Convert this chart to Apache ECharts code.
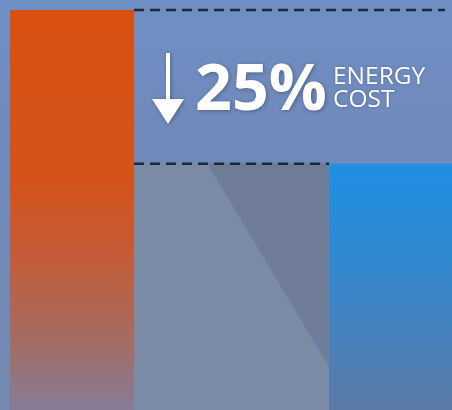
<!DOCTYPE html>
<html>
<head>
<meta charset="utf-8">
<script src="https://cdn.jsdelivr.net/npm/echarts@6/dist/echarts.min.js"></script>
<style>html,body{margin:0;padding:0;}#c{width:452px;height:410px;}</style>
</head>
<body>
<div id="c"></div>
<script>
// ---- data ----
const categories = ['Before', 'After'];
const costValues = [100, 75];
const reductionText = '25%';
const captionLines = ['ENERGY', 'COST'];

// ---- styles ----
const BAR_W = 124;
const orangeGrad = {type:'linear',x:0,y:0,x2:0,y2:1,colorStops:[
  {offset:0,color:'#d9500f'},{offset:0.42,color:'#d5531b'},{offset:0.6,color:'#c65b36'},
  {offset:0.8,color:'#a86a5c'},{offset:1,color:'#877c97'}]};
const blueGrad = {type:'linear',x:0,y:0,x2:0,y2:1,colorStops:[
  {offset:0,color:'#1f90e2'},{offset:0.4,color:'#3188cf'},{offset:0.75,color:'#4a80b8'},{offset:1,color:'#5b7aa6'}]};
const barColors = [orangeGrad, blueGrad];

const chart = echarts.init(document.getElementById('c'));
const shadow = {shadowColor:'rgba(0,0,0,0.3)', shadowBlur:4, shadowOffsetX:1, shadowOffsetY:1};

chart.setOption({
  animation: false,
  backgroundColor: {type:'linear',x:0,y:0,x2:0,y2:1,colorStops:[
    {offset:0,color:'#6f8fc4'},{offset:0.35,color:'#7089bb'},{offset:1,color:'#7389b0'}]},
  graphic: [
    {type:'polygon', z:0, silent:true, shape:{points:[[134,163],[207,163],[355,410],[134,410]]}, style:{fill:'#7b8aa5'}},
    {type:'polygon', z:0, silent:true, shape:{points:[[207,163],[329,163],[329,410],[355,410]]}, style:{fill:'#6f7d99'}}
  ],
  grid: {left:-87.5, right:-98.5, top:10, bottom:0, outerBoundsMode:'none', containLabel:false},
  xAxis: {type:'category', data:categories, boundaryGap:true, show:false},
  yAxis: {type:'value', min:35, max:100, show:false},
  series: [
    {
      type:'bar', barWidth:BAR_W,
      data: costValues.map((v,i)=>({value:v, itemStyle:{color:barColors[i]}}))
    },
    {
      type:'custom', clip:false, z:5,
      data: [[0, costValues[0], costValues[1]]],
      renderItem: function(params, api){
        const pTop0 = api.coord([0, api.value(1)]);
        const pTop1 = api.coord([1, api.value(1)]);
        const pLow1 = api.coord([1, api.value(2)]);
        const leftEdge = pTop0[0] + BAR_W/2;
        const rightEnd = pTop1[0] + BAR_W/2 - 8;
        const lowEnd = pLow1[0] - BAR_W/2;
        const yTop = pTop0[1], yLow = pLow1[1];
        const mid = (yTop + yLow)/2;
        const dash = {stroke:'#1d2837', lineWidth:2.5, lineDash:[10,6]};
        const ax = leftEdge + 34;
        const tx = leftEdge + 61;
        return {type:'group', children:[
          {type:'line', shape:{x1:leftEdge,y1:yTop,x2:rightEnd,y2:yTop}, style:dash},
          {type:'line', shape:{x1:leftEdge,y1:yLow,x2:lowEnd,y2:yLow}, style:dash},
          {type:'rect', shape:{x:ax-2, y:mid-34, width:4, height:50}, style:Object.assign({fill:'#ffffff'}, shadow)},
          {type:'polygon', shape:{points:[[ax-16,mid+12],[ax+16,mid+12],[ax,mid+37]]}, style:Object.assign({fill:'#ffffff'}, shadow)},
          {type:'text', style:{x:tx, y:mid+5, text:reductionText, fill:'#ffffff',
            font:'bold 64.5px "Open Sans"', align:'left', verticalAlign:'middle', textShadowColor:'rgba(0,0,0,0.3)', textShadowBlur:4, textShadowOffsetX:1, textShadowOffsetY:1}},
          {type:'text', style:{x:tx+138, y:mid-10, text:captionLines[0], fill:'#ffffff',
            font:'24.5px "Open Sans"', align:'left', verticalAlign:'middle', textShadowColor:'rgba(0,0,0,0.25)', textShadowBlur:3}},
          {type:'text', style:{x:tx+138, y:mid+13, text:captionLines[1], fill:'#ffffff',
            font:'24.5px "Open Sans"', align:'left', verticalAlign:'middle', textShadowColor:'rgba(0,0,0,0.25)', textShadowBlur:3}}
        ]};
      }
    }
  ]
});
</script>
</body>
</html>
